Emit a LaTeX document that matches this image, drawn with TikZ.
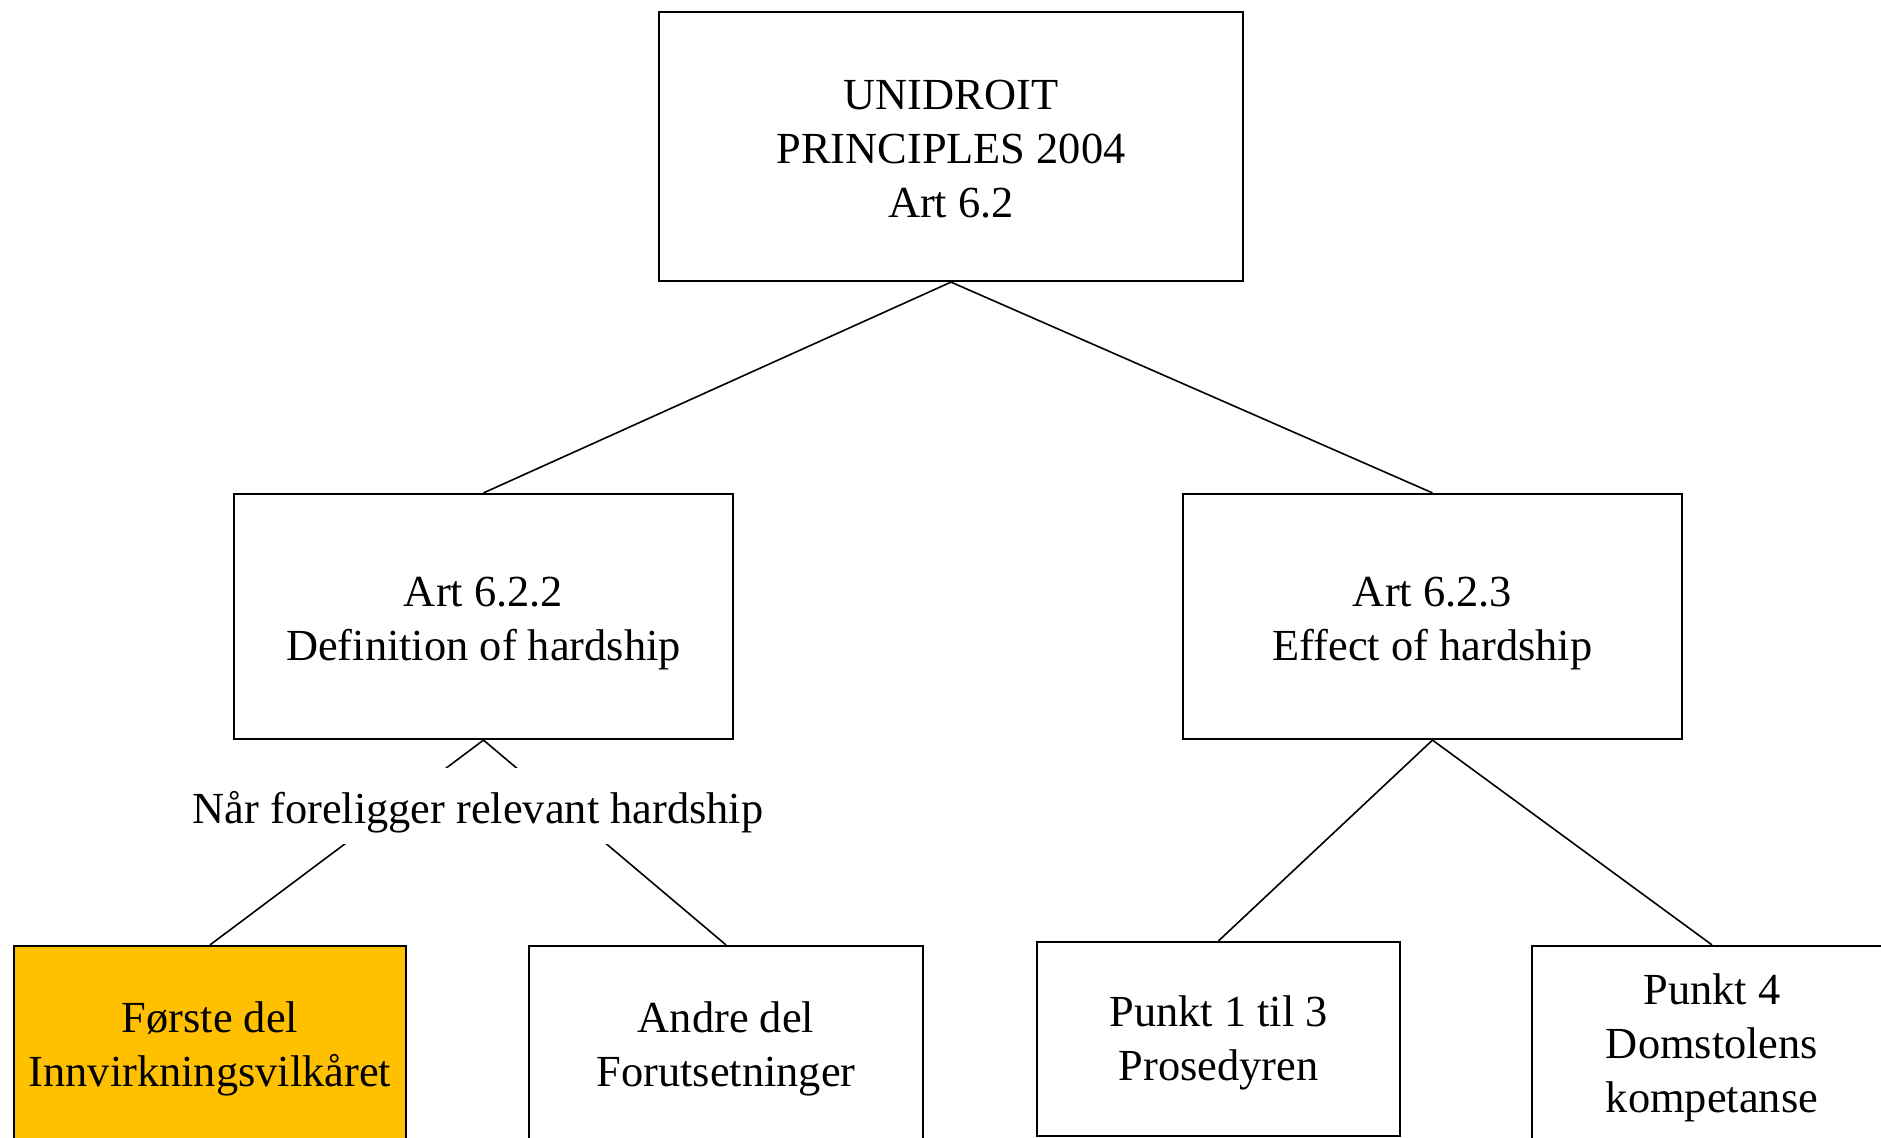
\documentclass[tikz,border=0pt]{standalone}
\usepackage{fontspec}
\setmainfont{Liberation Serif}
\definecolor{gold}{HTML}{FFC000}
\newcommand{\dn}[1]{\rule{0pt}{#1}}
\begin{document}
\begin{tikzpicture}[x=0.5pt,y=-0.5pt,
  box/.style={draw=black,line width=1.1pt,rectangle,align=center,inner sep=0pt,
    font=\fontsize{22.2}{27}\selectfont},
  conn/.style={draw=black,line width=0.8pt}]
\useasboundingbox (0,0) rectangle (1881,1137);
\clip (0,0) rectangle (1881,1137);
\node[box,minimum width=292pt,minimum height=134.5pt] (top) at (951,146.5) {\dn{17.5pt}UNIDROIT\\PRINCIPLES 2004\\Art 6.2};
\node[box,minimum width=249.5pt,minimum height=122.5pt] (ml) at (483.5,616.5) {\dn{21.5pt}Art 6.2.2\\Definition of hardship};
\node[box,minimum width=249.5pt,minimum height=122.5pt] (mr) at (1432.5,616.5) {\dn{21.5pt}Art 6.2.3\\Effect of hardship};
\node[box,fill=gold,minimum width=196pt,minimum height=99pt] (b1) at (210,1045) {\dn{19.5pt}Første del\\Innvirkningsvilkåret};
\node[box,minimum width=197pt,minimum height=99pt] (b2) at (726,1045) {\dn{19.5pt}Andre del\\Forutsetninger};
\node[box,minimum width=181.5pt,minimum height=97pt] (b3) at (1218.5,1039) {\dn{19.5pt}Punkt 1 til 3\\Prosedyren};
\node[box,minimum width=180pt,minimum height=98pt] (b4) at (1712,1044) {\dn{19.5pt}Punkt 4\\Domstolens\\kompetanse};
\draw[conn] (top.south) -- (ml.north);
\draw[conn] (top.south) -- (mr.north);
\draw[conn] (ml.south) -- (b1.north);
\draw[conn] (ml.south) -- (b2.north);
\draw[conn] (mr.south) -- (b3.north);
\draw[conn] (mr.south) -- (b4.north);
\node[fill=white,inner sep=2pt,minimum height=38pt,font=\fontsize{22.2}{27}\selectfont] (lbl) at (478,806) {\dn{22pt}Når foreligger relevant hardship};
\end{tikzpicture}
\end{document}
